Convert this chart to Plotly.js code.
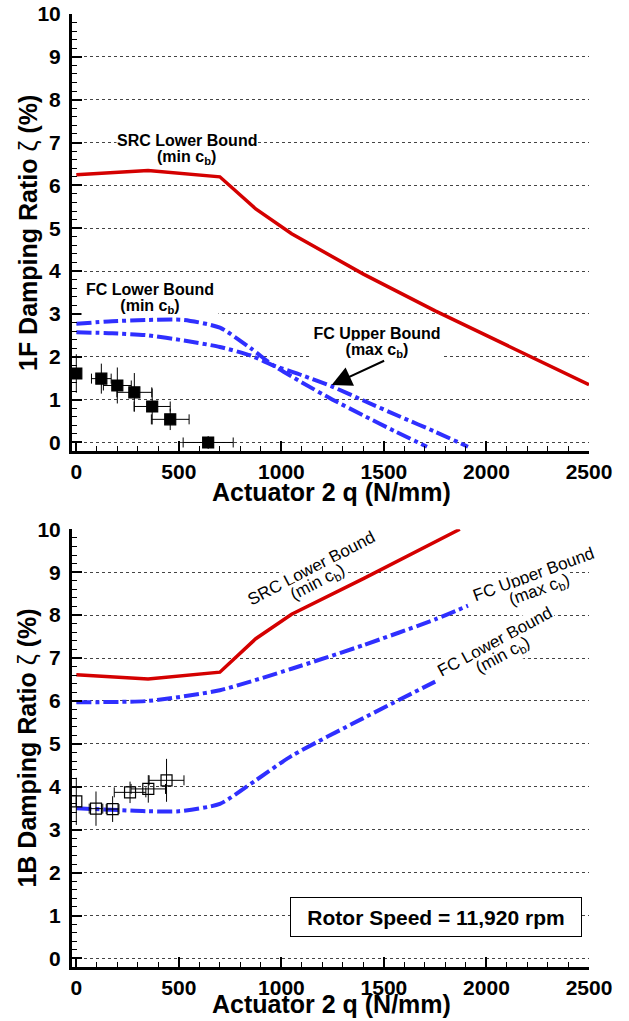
<!DOCTYPE html>
<html>
<head>
<meta charset="utf-8">
<script src="https://cdn.plot.ly/plotly-3.0.1.min.js"></script>
<style>
  html, body { margin: 0; padding: 0; background: #fff; }
  #chart { width: 629px; height: 1021px; }
</style>
</head>
<body>
<div id="chart"></div>
<script>
// ---- 1F mode (upper panel) ----
const src1F_q = [0, 350, 700, 875, 1050, 1400, 1750, 2100, 2500];
const src1F_z = [6.25, 6.35, 6.2, 5.45, 4.87, 3.93, 3.07, 2.26, 1.35];

const fcMin1F_q = [0, 175, 350, 525, 700, 850, 960, 1100, 1250, 1400, 1550, 1710];
const fcMin1F_z = [2.77, 2.83, 2.86, 2.86, 2.68, 2.2, 1.8, 1.4, 1.0, 0.63, 0.27, -0.1];

const fcMax1F_q = [0, 175, 350, 525, 700, 850, 960, 1100, 1250, 1400, 1580, 1750, 1910];
const fcMax1F_z = [2.57, 2.55, 2.5, 2.38, 2.23, 2.03, 1.8, 1.57, 1.3, 0.98, 0.6, 0.25, -0.1];

const test1F_q   = [0, 122, 200, 283, 370, 458, 643];
const test1F_z   = [1.61, 1.49, 1.33, 1.17, 0.84, 0.54, 0.0];
const test1F_eq  = [0, 48, 68, 85, 88, 92, 122];
const test1F_ez  = [0.45, 0.35, 0.42, 0.45, 0.42, 0.25, 0.15];

// ---- 1B mode (lower panel) ----
const src1B_q = [0, 350, 700, 875, 1050, 1400, 1870];
const src1B_z = [6.61, 6.51, 6.67, 7.45, 8.02, 8.85, 10.0];

const fcMax1B_q = [0, 350, 700, 1050, 1400, 1750, 1910];
const fcMax1B_z = [5.97, 6.0, 6.25, 6.75, 7.3, 7.9, 8.22];

const fcMin1B_q = [0, 350, 500, 700, 875, 1050, 1400, 1750];
const fcMin1B_z = [3.5, 3.43, 3.43, 3.6, 4.15, 4.72, 5.6, 6.45];

const test1B_q  = [0, 96, 177, 262, 351, 440];
const test1B_z  = [3.66, 3.49, 3.48, 3.87, 3.95, 4.15];
const test1B_eq = [0, 33, 31, 77, 84, 85];
const test1B_ez = [0.55, 0.4, 0.3, 0.25, 0.32, 0.5];

const xTitle = 'Actuator 2 q (N/mm)';
const yTitle1F = '<b>1F Damping Ratio </b>ζ<b> (%)</b>';
const yTitle1B = '<b>1B Damping Ratio </b>ζ<b> (%)</b>';
const rotorSpeed = 'Rotor Speed = 11,920 rpm';

// ---- styling ----
const FONT = 'Liberation Sans, Arial, Helvetica, sans-serif';
const RED = '#d40000';
const BLUE = '#2f2fff';
const DASHDOT = '15px,4px,4px,4px';

function srcLine(x, y, xa, ya) {
  return { x, y, xaxis: xa, yaxis: ya, mode: 'lines', type: 'scatter',
    line: { color: RED, width: 3.5 }, hoverinfo: 'skip' };
}
function fcLine(x, y, xa, ya) {
  return { x, y, xaxis: xa, yaxis: ya, mode: 'lines', type: 'scatter',
    line: { color: BLUE, width: 4, dash: DASHDOT, shape: 'spline', smoothing: 0.6 },
    hoverinfo: 'skip' };
}
function testPts(x, y, ex, ey, xa, ya, symbol) {
  return { x, y, xaxis: xa, yaxis: ya, mode: 'markers', type: 'scatter',
    marker: { symbol, size: 11, color: 'black', line: { color: 'black', width: 1.2 } },
    error_x: { type: 'data', array: ex, visible: true, color: 'black', thickness: 1, width: 5 },
    error_y: { type: 'data', array: ey, visible: true, color: 'black', thickness: 1, width: 0 },
    hoverinfo: 'skip' };
}

const traces = [
  srcLine(src1F_q, src1F_z, 'x', 'y'),
  fcLine(fcMin1F_q, fcMin1F_z, 'x', 'y'),
  fcLine(fcMax1F_q, fcMax1F_z, 'x', 'y'),
  testPts(test1F_q, test1F_z, test1F_eq, test1F_ez, 'x', 'y', 'square'),
  srcLine(src1B_q, src1B_z, 'x2', 'y2'),
  fcLine(fcMax1B_q, fcMax1B_z, 'x2', 'y2'),
  fcLine(fcMin1B_q, fcMin1B_z, 'x2', 'y2'),
  testPts(test1B_q, test1B_z, test1B_eq, test1B_ez, 'x2', 'y2', 'square-open')
];

function xAxis(anchor) {
  return {
    anchor, domain: [0, 1], range: [-21, 2500],
    tick0: 0, dtick: 500, ticks: 'inside', ticklen: 10, tickwidth: 2, tickcolor: 'black',
    minor: { ticks: 'inside', tick0: 0, dtick: 100, ticklen: 5, tickwidth: 1, tickcolor: 'black', showgrid: false },
    showline: true, linewidth: 3, linecolor: 'black', mirror: false,
    showgrid: false, zeroline: false,
    tickfont: { family: FONT, size: 21, color: 'black', weight: 'bold' },
    automargin: false, fixedrange: true
  };
}
function yAxis(anchor, domain) {
  return {
    anchor, domain, range: [-0.2, 10],
    tick0: 0, dtick: 1, ticks: 'inside', ticklen: 10, tickwidth: 2, tickcolor: 'black',
    minor: { ticks: 'inside', tick0: 0, dtick: 0.2, ticklen: 5, tickwidth: 1, tickcolor: 'black', showgrid: false },
    showline: true, linewidth: 3, linecolor: 'black',
    showgrid: true, gridcolor: '#444', gridwidth: 1, griddash: 'dot', zeroline: false,
    tickfont: { family: FONT, size: 21, color: 'black', weight: 'bold' },
    ticklabelstandoff: 4,
    automargin: false, fixedrange: true
  };
}

const boldLbl = { family: FONT, size: 16, color: 'black', weight: 'bold' };
const regLbl = { family: FONT, size: 17, color: 'black' };
const titleFont = { family: FONT, size: 25, color: 'black' };

function lbl(xref, yref, x, y, text, opts) {
  return Object.assign({ xref, yref, x, y, text, showarrow: false,
    xanchor: 'center', yanchor: 'middle', bgcolor: 'white', borderpad: 0,
    font: boldLbl }, opts || {});
}
function axisTitle(x, y, text, angle) {
  return { xref: 'paper', yref: 'paper', x, y, text: text, textangle: angle,
    showarrow: false, xanchor: 'center', yanchor: 'middle', font: titleFont };
}

const annotations = [
  // axis titles
  axisTitle(0.501, 0.4984, '<b>' + xTitle + '</b>', 0),
  axisTitle(0.501, -0.0388, '<b>' + xTitle + '</b>', 0),
  axisTitle(-0.0861, 0.7707, yTitle1F, -90),
  axisTitle(-0.0861, 0.2297, yTitle1B, -90),
  // upper panel labels
  lbl('x', 'y', 538, 7.05, 'SRC Lower Bound'),
  lbl('x', 'y', 538, 6.64, '(min c<sub>b</sub>)'),
  lbl('x', 'y', 357, 3.57, 'FC Lower Bound', { width: 136 }),
  lbl('x', 'y', 357, 3.17, '(min c<sub>b</sub>)', { width: 136 }),
  lbl('x', 'y', 1464, 2.55, 'FC Upper Bound', { width: 132 }),
  lbl('x', 'y', 1464, 2.15, '(max c<sub>b</sub>)', { width: 132 }),
  // pointer from the upper-bound label to its curve
  { xref: 'x', yref: 'y', x: 1245, y: 1.34, ax: 54, ay: -25,
    text: '', font: { family: FONT, size: 1 }, showarrow: true,
    arrowhead: 2, arrowsize: 2, arrowwidth: 2,
    arrowcolor: 'black', standoff: 0, startstandoff: 0 },
  // lower panel labels
  lbl('x2', 'y2', 1145, 9.09, 'SRC Lower Bound', { textangle: -27.5, font: regLbl }),
  lbl('x2', 'y2', 1183, 8.74, '(min c<sub>b</sub>)', { textangle: -27.5, font: regLbl }),
  lbl('x2', 'y2', 2230, 8.94, 'FC Upper Bound', { textangle: -20, font: regLbl }),
  lbl('x2', 'y2', 2259, 8.57, '(max c<sub>b</sub>)', { textangle: -20, font: regLbl }),
  lbl('x2', 'y2', 2044, 7.39, 'FC Lower Bound', { textangle: -28.5, font: regLbl }),
  lbl('x2', 'y2', 2084, 7.05, '(min c<sub>b</sub>)', { textangle: -28.5, font: regLbl }),
  { xref: 'x2', yref: 'y2', x: 1753, y: 0.965, text: rotorSpeed, showarrow: false,
    xanchor: 'center', yanchor: 'middle', bgcolor: 'white', bordercolor: 'black',
    borderwidth: 1, borderpad: 1, width: 288, height: 36,
    font: { family: FONT, size: 21, color: 'black', weight: 'bold' } }
];

const layout = {
  width: 629, height: 1021,
  margin: { l: 72, r: 40, t: 14, b: 54 },
  paper_bgcolor: 'white', plot_bgcolor: 'white',
  showlegend: false,
  xaxis: xAxis('y'),
  yaxis: yAxis('x', [0.5414, 1]),
  xaxis2: xAxis('y2'),
  yaxis2: yAxis('x2', [0, 0.4593]),
  annotations
};

Plotly.newPlot('chart', traces, layout, { staticPlot: true, displayModeBar: false });
</script>
</body>
</html>
